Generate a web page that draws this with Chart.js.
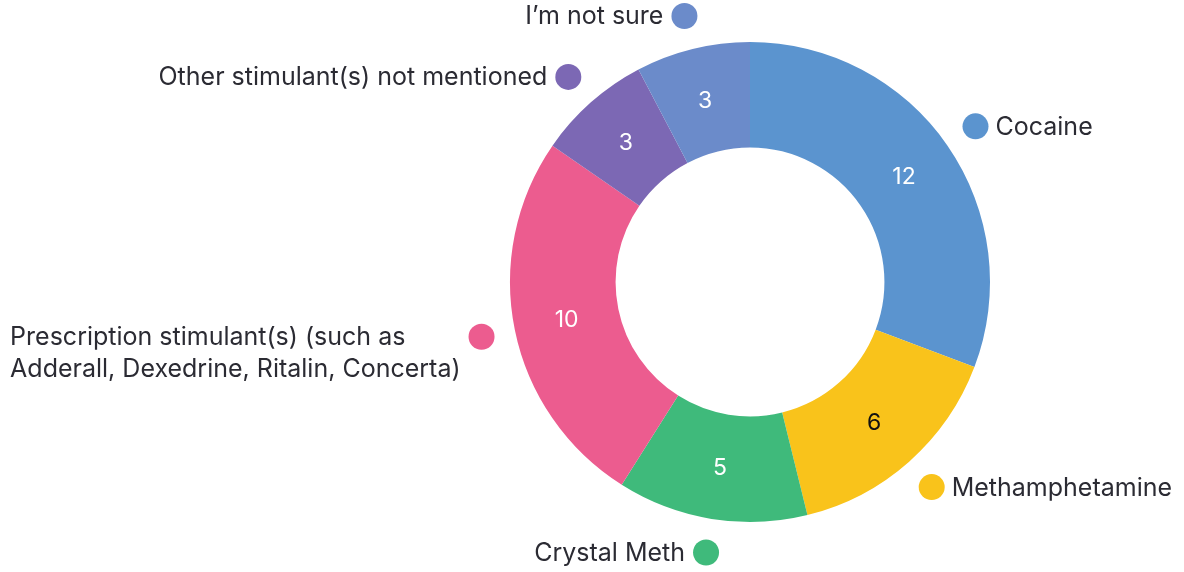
<!DOCTYPE html>
<html>
<head>
<meta charset="utf-8">
<script src="https://cdn.jsdelivr.net/npm/chart.js@4"></script>
<style>
  html, body { margin: 0; padding: 0; background: #fff; }
  #wrap { width: 1184px; height: 572px; }
</style>
</head>
<body>
<div id="wrap"><canvas id="graph"></canvas></div>
<script>
// data
const categories = [
  "Cocaine",
  "Methamphetamine",
  "Crystal Meth",
  ["Prescription stimulant(s) (such as", "Adderall, Dexedrine, Ritalin, Concerta)"],
  "Other stimulant(s) not mentioned",
  "I\u2019m not sure",
];
const counts = [12, 6, 5, 10, 3, 3];
const sliceColors = ["#5b94cf", "#f9c31b", "#3fba7b", "#ec5c8f", "#7c68b4", "#6b8bca"];
const valueColors = ["#fff", "#111", "#fff", "#fff", "#fff", "#fff"];

const FONT = "Inter, 'Noto Sans', sans-serif";

// 外側のラベル（丸 + テキスト）と内側の数値
const sliceLabels = {
  id: "sliceLabels",
  afterDatasetsDraw(chart) {
    const ctx = chart.ctx;
    const meta = chart.getDatasetMeta(0);
    ctx.save();
    meta.data.forEach((arc, i) => {
      const mid = (arc.startAngle + arc.endAngle) / 2;
      const cx = arc.x, cy = arc.y;

      // 数値
      const rMid = (arc.innerRadius + arc.outerRadius) / 2;
      ctx.font = "23px " + FONT;
      ctx.fillStyle = valueColors[i];
      ctx.textAlign = "center";
      ctx.textBaseline = "middle";
      ctx.fillText(String(counts[i]), cx + Math.cos(mid) * rMid, cy + Math.sin(mid) * rMid + 1);

      // 丸
      const rDot = arc.outerRadius + 34;
      const dx = cx + Math.cos(mid) * rDot;
      const dy = cy + Math.sin(mid) * rDot;
      ctx.beginPath();
      ctx.arc(dx, dy, 13, 0, Math.PI * 2);
      ctx.fillStyle = sliceColors[i];
      ctx.fill();

      // テキスト
      const lines = Array.isArray(categories[i]) ? categories[i] : [categories[i]];
      ctx.font = "25px " + FONT;
      ctx.fillStyle = "#2b2b33";
      ctx.textBaseline = "middle";
      const right = Math.cos(mid) > 0;
      if (right) {
        ctx.textAlign = "left";
        lines.forEach((t, k) => ctx.fillText(t, dx + 20, dy + 1 + k * 32));
      } else {
        const w = Math.max(...lines.map((t) => ctx.measureText(t).width));
        ctx.textAlign = "left";
        lines.forEach((t, k) => ctx.fillText(t, dx - 21 - w, dy + 1 + k * 32));
      }
    });
    ctx.restore();
  },
};

const graph = document.getElementById("graph");
new Chart(graph, {
  type: "doughnut",
  data: {
    labels: categories,
    datasets: [
      {
        data: counts,
        backgroundColor: sliceColors,
        borderWidth: 0,
      },
    ],
  },
  options: {
    responsive: true,
    maintainAspectRatio: false,
    animation: false,
    cutout: "56%",
    layout: {
      padding: { left: 510, right: 194, top: 42, bottom: 50 },
    },
    plugins: {
      legend: { display: false },
      tooltip: { enabled: false },
    },
  },
  plugins: [sliceLabels],
});
</script>
</body>
</html>
